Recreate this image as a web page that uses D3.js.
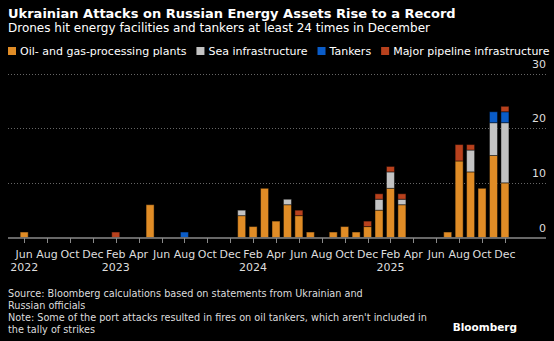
<!DOCTYPE html>
<html>
<head>
<meta charset="utf-8">
<script src="https://cdn.jsdelivr.net/npm/d3@7"></script>
<style>
  html, body { margin: 0; padding: 0; background: #000; }
  svg { display: block; font-family: "DejaVu Sans", Verdana, sans-serif; }
</style>
</head>
<body>
<script>
// Monthly strike counts, Jun 2022 .. Dec 2025
const firstMonth = new Date(2022, 5, 1);
const lastMonth = new Date(2025, 11, 1);

const oil = [1, 0, 0, 0, 0, 0, 0,
  0, 0, 0, 0, 6, 0, 0, 0, 0, 0, 0, 0,
  4, 2, 9, 3, 6, 4, 1, 0, 1, 2, 1, 2,
  5, 9, 6, 0, 0, 0, 1, 14, 12, 9, 15, 10];
const sea = [0, 0, 0, 0, 0, 0, 0,
  0, 0, 0, 0, 0, 0, 0, 0, 0, 0, 0, 0,
  1, 0, 0, 0, 1, 0, 0, 0, 0, 0, 0, 0,
  2, 3, 1, 0, 0, 0, 0, 0, 4, 0, 6, 11];
const tankers = [0, 0, 0, 0, 0, 0, 0,
  0, 0, 0, 0, 0, 0, 0, 1, 0, 0, 0, 0,
  0, 0, 0, 0, 0, 0, 0, 0, 0, 0, 0, 0,
  0, 0, 0, 0, 0, 0, 0, 0, 0, 0, 2, 2];
const pipeline = [0, 0, 0, 0, 0, 0, 0,
  0, 1, 0, 0, 0, 0, 0, 0, 0, 0, 0, 0,
  0, 0, 0, 0, 0, 1, 0, 0, 0, 0, 0, 1,
  1, 1, 1, 0, 0, 0, 0, 3, 1, 0, 0, 1];

const seriesKeys = ["oil", "sea", "tankers", "pipeline"];
const seriesLabels = ["Oil- and gas-processing plants", "Sea infrastructure", "Tankers", "Major pipeline infrastructure"];
const seriesColors = ["#e08c26", "#c3c3c3", "#0a5cc8", "#b8411d"];
const yTicks = [0, 10, 20, 30];

const W = 554, H = 341;
const months = d3.timeMonth.range(firstMonth, d3.timeMonth.offset(lastMonth, 1));
const rows = months.map((m, i) => ({
  month: m, oil: oil[i], sea: sea[i], tankers: tankers[i], pipeline: pipeline[i]
}));

// axis domain runs a month before and three after the data
const domainMonths = d3.timeMonth.range(d3.timeMonth.offset(firstMonth, -1), d3.timeMonth.offset(lastMonth, 4));

const svg = d3.select("body").append("svg")
  .attr("width", W).attr("height", H)
  .attr("viewBox", `0 0 ${W} ${H}`);

svg.append("rect").attr("width", W).attr("height", H).attr("fill", "#000");

const x = d3.scaleBand()
  .domain(domainMonths.map(d => +d))
  .range([7, 545])
  .paddingInner(0.3)
  .paddingOuter(0.15);

const y = d3.scaleLinear().domain([0, 30]).range([237.5, 73.5]);

// header
svg.append("text").attr("x", 8).attr("y", 18)
  .attr("fill", "#fff").attr("font-size", 13).attr("font-weight", "bold")
  .text("Ukrainian Attacks on Russian Energy Assets Rise to a Record");
svg.append("text").attr("x", 8).attr("y", 32)
  .attr("fill", "#fff").attr("font-size", 12)
  .text("Drones hit energy facilities and tankers at least 24 times in December");

// legend
const legend = svg.append("g").attr("font-size", 11).attr("fill", "#fff");
let lx = 8;
seriesLabels.forEach((label, i) => {
  legend.append("rect").attr("x", lx).attr("y", 47).attr("width", 8).attr("height", 8)
    .attr("fill", seriesColors[i]);
  const t = legend.append("text").attr("x", lx + 12).attr("y", 55).text(label);
  lx += 12 + t.node().getComputedTextLength() + 10;
});

// gridlines
const grid = svg.append("g");
yTicks.filter(v => v > 0).forEach(v => {
  grid.append("line")
    .attr("x1", 8).attr("x2", 546)
    .attr("y1", Math.round(y(v)) + 0.5).attr("y2", Math.round(y(v)) + 0.5)
    .attr("stroke", "#666").attr("stroke-width", 1).attr("stroke-dasharray", "1,2");
});
grid.selectAll("text.ylab").data(yTicks).enter().append("text")
  .attr("class", "ylab")
  .attr("x", 546).attr("y", d => y(d) - 6)
  .attr("text-anchor", "end").attr("font-size", 11).attr("fill", "#ddd")
  .text(d => d);

// stacked bars
const stack = d3.stack().keys(seriesKeys)(rows);
svg.append("g").selectAll("g").data(stack).enter().append("g")
  .attr("fill", (d, i) => seriesColors[i])
  .selectAll("rect")
  .data(d => d.filter(s => s[1] - s[0] > 0))
  .enter().append("rect")
  .attr("x", d => x(+d.data.month))
  .attr("width", x.bandwidth())
  .attr("y", d => y(d[1]))
  .attr("height", d => y(d[0]) - y(d[1]))
  .attr("stroke", "rgba(0,0,0,0.45)")
  .attr("stroke-width", 1);

// x axis
const axis = svg.append("g");
axis.append("line").attr("x1", 8).attr("x2", 546).attr("y1", 238).attr("y2", 238)
  .attr("stroke", "#8a8a8a").attr("stroke-width", 1.5);
const tickMonths = months.filter(m => m.getMonth() % 2 === 1);
const monthFmt = d3.timeFormat("%b");
axis.selectAll("line.tick").data(tickMonths).enter().append("line")
  .attr("class", "tick")
  .attr("x1", d => Math.round(x(+d) + x.bandwidth() / 2) + 0.5)
  .attr("x2", d => Math.round(x(+d) + x.bandwidth() / 2) + 0.5)
  .attr("y1", 238).attr("y2", 243)
  .attr("stroke", "#8a8a8a").attr("stroke-width", 1);
axis.selectAll("text.mon").data(tickMonths).enter().append("text")
  .attr("class", "mon")
  .attr("x", d => x(+d) + x.bandwidth() / 2).attr("y", 258)
  .attr("text-anchor", "middle").attr("font-size", 11).attr("fill", "#ddd")
  .text(d => monthFmt(d));
const yearTicks = tickMonths.filter((m, i) => i === 0 || m.getMonth() === 1);
axis.selectAll("text.yr").data(yearTicks).enter().append("text")
  .attr("class", "yr")
  .attr("x", d => x(+d) + x.bandwidth() / 2).attr("y", 271)
  .attr("text-anchor", "middle").attr("font-size", 11).attr("fill", "#ddd")
  .text(d => d.getFullYear());

// footer
const foot = svg.append("g").attr("font-size", 9.7).attr("fill", "#ddd");
["Source: Bloomberg calculations based on statements from Ukrainian and",
 "Russian officials",
 "Note: Some of the port attacks resulted in fires on oil tankers, which aren't included in",
 "the tally of strikes"].forEach((line, i) => {
  foot.append("text").attr("x", 8).attr("y", 297 + i * 12).text(line);
});
svg.append("text").attr("x", 517).attr("y", 331)
  .attr("text-anchor", "end").attr("font-size", 10.5).attr("font-weight", "bold").attr("fill", "#fff")
  .text("Bloomberg");
</script>
</body>
</html>
